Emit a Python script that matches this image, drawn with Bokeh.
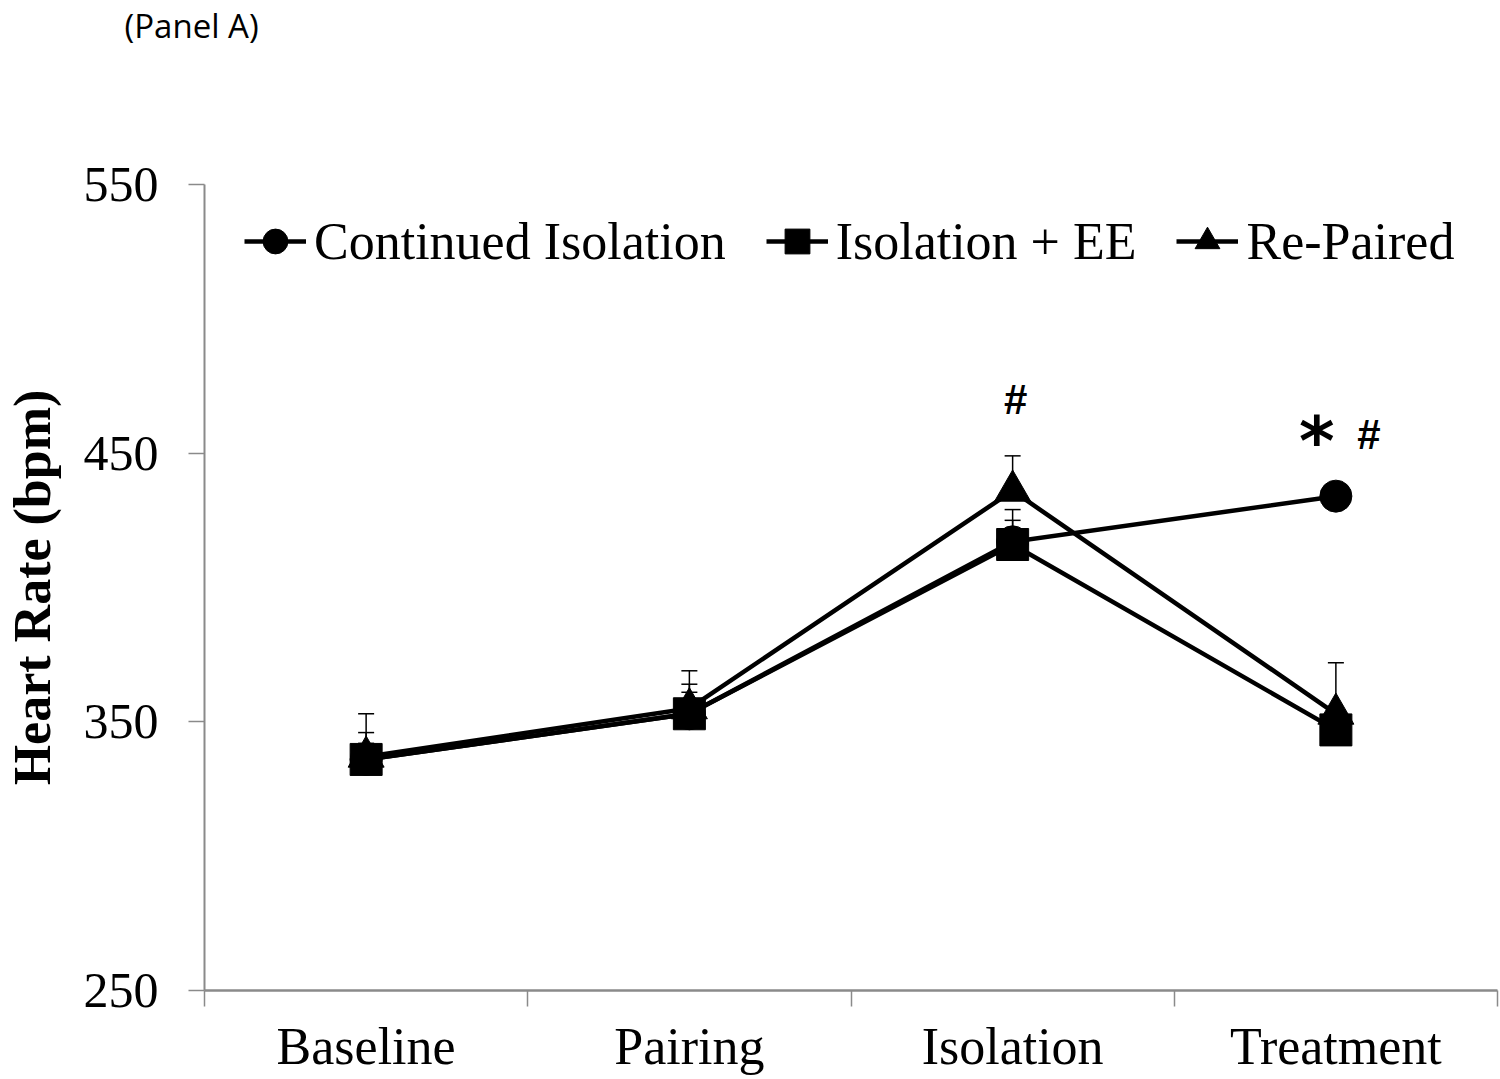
from bokeh.plotting import figure
from bokeh.models import (ColumnDataSource, Range1d, FixedTicker, Legend, LegendItem, Title)
from bokeh.core.properties import value
from bokeh.embed import file_html
from bokeh.resources import INLINE

# ---- data ----
categories = ["Baseline", "Pairing", "Isolation", "Treatment"]
continued_isolation = [336, 353, 417, 434]
continued_isolation_err = [10, 11, 8, 3]
isolation_ee = [336, 353, 416, 347]
isolation_ee_err = [6, 8, 13, 4]
re_paired = [337, 355, 436, 353]
re_paired_err = [16, 14, 13, 19]
y_ticks = [250, 350, 450, 550]
iso_mark_text = "#"
iso_mark_y = 470
treat_mark_texts = ["*", "#"]
treat_mark_y = 457

xs = [i + 0.5 for i in range(len(categories))]
bounds = list(range(len(categories) + 1))

SERIF = "Liberation Serif"
GRAY = "#8a8a8a"

p = figure(width=1500, height=1079,
           x_range=Range1d(0, len(categories)), y_range=Range1d(y_ticks[0], y_ticks[-1]),
           output_backend="svg", toolbar_location=None,
           min_border_left=203, min_border_right=3, min_border_top=184, min_border_bottom=89)
p.outline_line_color = None
p.grid.visible = False
p.background_fill_color = "white"

# spacer (closest to the frame) then the panel tag above it, at the top-left
p.add_layout(Title(text=" ", text_font_size="1px", standoff=132), "above")
p.add_layout(Title(text="(Panel A)", align="left", vertical_align="top", offset=-80, standoff=0,
                   text_font="Open Sans", text_font_size="33px", text_font_style="normal",
                   text_color="black"), "above")

# x axis
xa = p.xaxis[0]
xa.ticker = FixedTicker(ticks=xs, minor_ticks=bounds)
xa.major_label_overrides = {x: c for x, c in zip(xs, categories)}
xa.major_tick_out = 0
xa.major_tick_in = 0
xa.minor_tick_out = 16
xa.minor_tick_in = 0
xa.minor_tick_line_color = GRAY
xa.minor_tick_line_width = 1.5
xa.axis_line_color = GRAY
xa.axis_line_width = 2.5
xa.major_label_text_font = SERIF
xa.major_label_text_font_size = "52px"
xa.major_label_text_color = "black"
xa.major_label_standoff = 11

# y axis
ya = p.yaxis[0]
ya.ticker = FixedTicker(ticks=y_ticks, minor_ticks=[])
ya.major_tick_out = 16
ya.major_tick_in = 0
ya.major_tick_line_color = GRAY
ya.major_tick_line_width = 1.5
ya.axis_line_color = GRAY
ya.axis_line_width = 2
ya.major_label_text_font = SERIF
ya.major_label_text_font_size = "50px"
ya.major_label_text_color = "black"
ya.major_label_standoff = 30
ya.axis_label = "Heart Rate (bpm)"
ya.axis_label_text_font = SERIF
ya.axis_label_text_font_size = "52px"
ya.axis_label_text_font_style = "bold"
ya.axis_label_text_color = "black"
ya.axis_label_standoff = 20


def src(vals, errs):
    return ColumnDataSource(dict(x=xs, y=vals, top=[v + e for v, e in zip(vals, errs)]))


s_ci = src(continued_isolation, continued_isolation_err)
s_rp = src(re_paired, re_paired_err)
s_ee = src(isolation_ee, isolation_ee_err)

# upper-only error bars with caps
for s in (s_ci, s_rp, s_ee):
    p.segment(x0="x", y0="y", x1="x", y1="top", source=s, line_color="black", line_width=1.5)
    p.scatter(x="x", y="top", source=s, marker="dash", size=16, line_color="black", line_width=1.5)

l_ci = p.line("x", "y", source=s_ci, line_color="black", line_width=4.5)
l_rp = p.line("x", "y", source=s_rp, line_color="black", line_width=4.5)
l_ee = p.line("x", "y", source=s_ee, line_color="black", line_width=4.5)
m_ci = p.scatter("x", "y", source=s_ci, marker="circle", size=32, fill_color="black", line_color="black")
m_rp = p.scatter("x", "y", source=s_rp, marker="triangle", size=36, fill_color="black", line_color="black")
m_ee = p.scatter("x", "y", source=s_ee, marker="square", size=32, fill_color="black", line_color="black")

legend = Legend(items=[
    LegendItem(label="Continued Isolation", renderers=[l_ci, m_ci]),
    LegendItem(label="Isolation + EE", renderers=[l_ee, m_ee]),
    LegendItem(label="Re-Paired", renderers=[l_rp, m_rp]),
], orientation="horizontal", location=(40, 709), padding=0, margin=0, spacing=40,
    label_standoff=8, glyph_width=62, glyph_height=80, label_height=80,
    label_text_font=SERIF, label_text_font_size="52px", label_text_color="black",
    background_fill_alpha=0, border_line_alpha=0)
p.add_layout(legend)

# significance marks
p.text(x=[xs[categories.index("Isolation")]], y=[iso_mark_y], text=[iso_mark_text], x_offset=3,
       text_font=value("Liberation Sans"), text_font_style="bold", text_font_size="42px",
       text_align="center", text_baseline="middle", text_color="black")
tx = xs[categories.index("Treatment")]
p.text(x=[tx], y=[treat_mark_y], text=[treat_mark_texts[0]], x_offset=-19, y_offset=7,
       text_font=value("DejaVu Sans"), text_font_style="bold", text_font_size="68px",
       text_align="center", text_baseline="middle", text_color="black")
p.text(x=[tx], y=[treat_mark_y], text=[treat_mark_texts[1]], x_offset=33,
       text_font=value("Liberation Sans"), text_font_style="bold", text_font_size="42px",
       text_align="center", text_baseline="middle", text_color="black")

open("out.html", "w").write(file_html(p, INLINE))
